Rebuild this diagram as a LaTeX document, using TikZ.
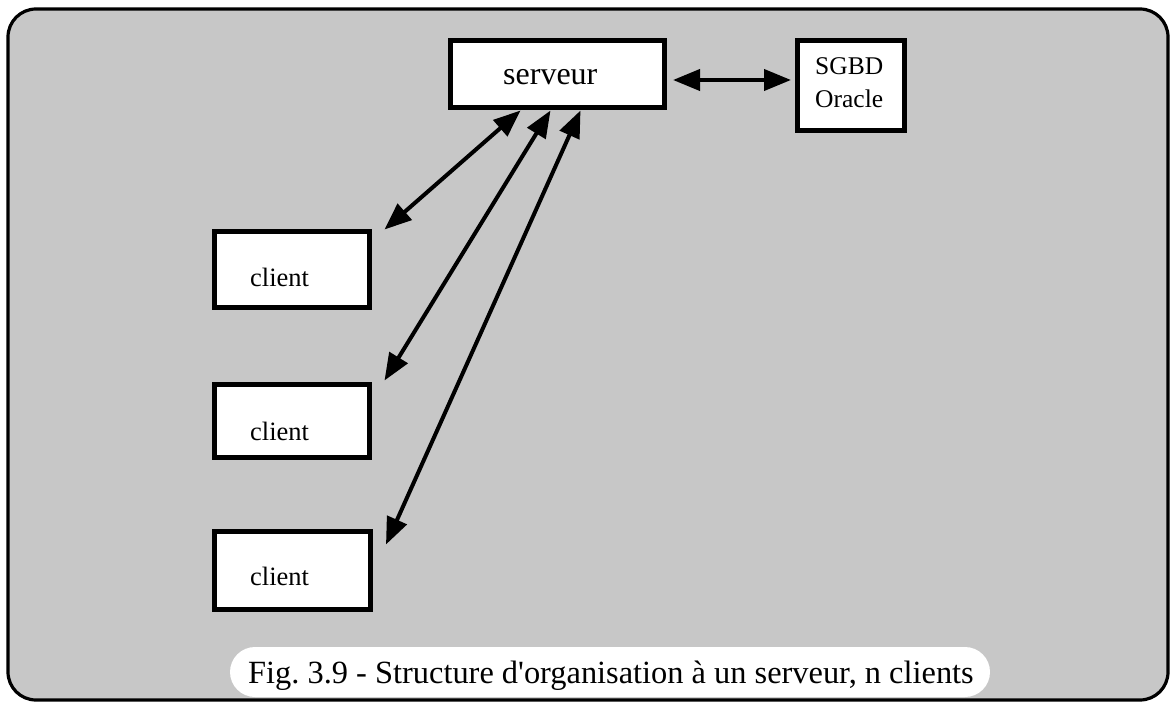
\documentclass[tikz,border=0pt]{standalone}
\usepackage{fontspec}
\setmainfont{Liberation Serif}
\usetikzlibrary{arrows.meta,calc}
\begin{document}
\begin{tikzpicture}[x=1pt,y=-1pt,
  box/.style={draw, line width=5pt, fill=white, inner sep=0pt},
  lbl/.style={inner sep=0pt, anchor=base west, font=\fontsize{26.5}{30}\selectfont},
  arr/.style={line width=4pt, {Triangle[length=27pt,width=21pt]}-{Triangle[length=27pt,width=21pt]}}]
\useasboundingbox (0,0) rectangle (1172,703);
% frame
\node[draw, line width=3.2pt, fill=black!22, rounded corners=28pt, minimum width=1160, minimum height=691, inner sep=0pt] (frame) at (588,354.5) {};
% caption pill
\node[fill=white, rounded corners=25pt, minimum width=760, minimum height=50, inner sep=0pt] (pill) at (610,672) {};
\node[inner sep=0pt, anchor=base west, font=\fontsize{32.4}{36}\selectfont] (cap) at (248,683) {Fig.\ 3.9 - Structure d\textquotesingle organisation à un serveur, n clients};
% boxes
\node[box, minimum width=214, minimum height=67] (serveur) at (557.5,74) {};
\node[lbl, font=\fontsize{32}{36}\selectfont] (servt) at (503,85) {serveur};
\node[box, minimum width=107, minimum height=90] (sgbd) at (851,85.5) {};
\node[lbl, font=\fontsize{25.5}{30}\selectfont] (sg1) at (815,75) {SGBD};
\node[lbl, font=\fontsize{25.5}{30}\selectfont] (sg2) at (815,108) {Oracle};
\node[box, minimum width=155, minimum height=76] (c1) at (292,269.5) {};
\node[lbl] (c1t) at (250,287) {client};
\node[box, minimum width=155, minimum height=73] (c2) at (292,421) {};
\node[lbl] (c2t) at (250,440) {client};
\node[box, minimum width=156, minimum height=78] (c3) at (292.5,570) {};
\node[lbl] (c3t) at (250,585) {client};
% arrows
\draw[arr] ($(serveur.east)+(6,6)$) -- ($(sgbd.west)+(-4,-5.5)$);
\draw[arr] ($(serveur.south west)+(72.5,0.5)$) -- ($(c1.north east)+(12.5,0.5)$);
\draw[arr] ($(serveur.south west)+(102.5,0.5)$) -- ($(c2.north east)+(12.5,-1.5)$);
\draw[arr] ($(serveur.south west)+(132.5,0.5)$) -- ($(c3.north east)+(13,16)$);
\end{tikzpicture}
\end{document}
